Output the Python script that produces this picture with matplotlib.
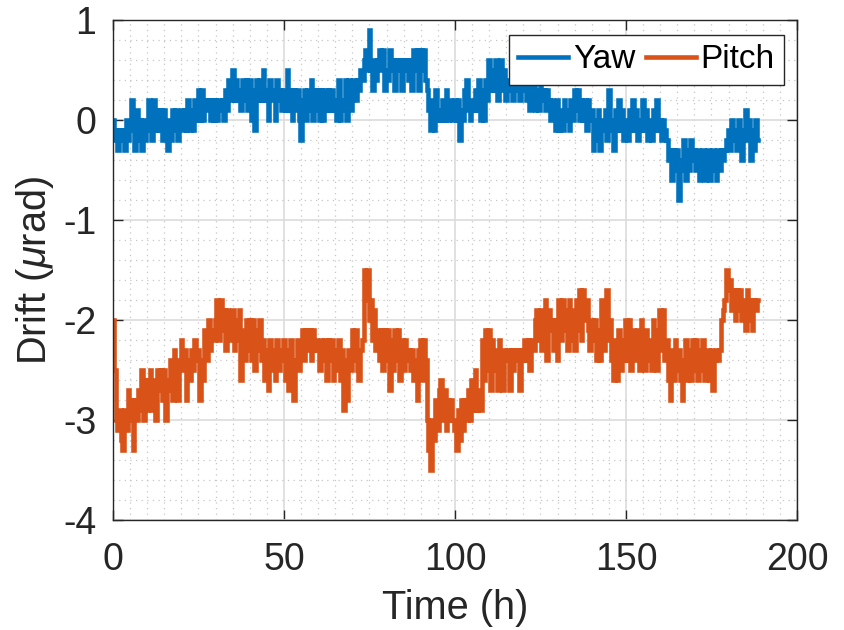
import numpy as np
import matplotlib
matplotlib.use("Agg")
import matplotlib.pyplot as plt
from matplotlib.ticker import MultipleLocator, FuncFormatter

# Drift readings sampled every half hour (μrad)
sample_step_h = 0.5

yaw = [
    0.0, -0.2, -0.1, -0.3, -0.1, -0.2, -0.1, -0.3, 0.0, -0.2, -0.1, 0.2, -0.1, -0.3, 0.1, -0.2, 0.0, -0.3, 0.0, -0.2,
    -0.1, 0.2, 0.0, -0.2, 0.2, -0.1, 0.1, -0.1, 0.1, -0.2, 0.1, -0.1, -0.3, 0.0, -0.2, 0.1, -0.1, 0.1, -0.2, 0.0,
    0.1, -0.1, 0.1, -0.1, 0.2, -0.1, 0.1, -0.1, 0.2, 0.0, 0.3, 0.0, 0.3, 0.0, 0.2, 0.1, 0.2, 0.0, 0.2, 0.0,
    0.2, 0.0, 0.2, 0.1, 0.2, 0.0, 0.3, 0.1, 0.4, 0.2, 0.5, 0.2, 0.4, 0.2, 0.3, 0.1, 0.4, 0.2, 0.4, 0.1,
    0.4, 0.0, 0.3, -0.1, 0.4, 0.2, 0.4, 0.2, 0.5, 0.2, 0.3, 0.0, 0.4, 0.2, 0.3, 0.0, 0.4, 0.2, 0.3, 0.1,
    0.3, 0.1, 0.5, 0.1, 0.3, 0.0, 0.3, 0.1, 0.3, 0.0, -0.2, 0.2, 0.3, 0.0, 0.3, 0.1, 0.4, 0.0, 0.3, 0.1,
    0.3, 0.0, 0.3, 0.0, 0.3, 0.1, 0.3, 0.1, 0.3, 0.1, 0.2, 0.0, 0.4, 0.0, 0.2, 0.1, 0.4, 0.0, 0.4, 0.1,
    0.2, 0.4, 0.2, 0.4, 0.3, 0.5, 0.4, 0.6, 0.7, 0.5, 0.9, 0.5, 0.3, 0.6, 0.4, 0.6, 0.7, 0.5, 0.7, 0.3,
    0.5, 0.4, 0.7, 0.5, 0.6, 0.3, 0.6, 0.5, 0.6, 0.3, 0.6, 0.5, 0.6, 0.4, 0.6, 0.3, 0.7, 0.5, 0.7, 0.3,
    0.7, 0.5, 0.7, 0.4, 0.3, 0.1, -0.1, 0.2, -0.1, 0.3, 0.0, 0.1, 0.0, 0.2, 0.0, 0.3, 0.0, 0.2, 0.1, 0.0,
    0.2, 0.0, 0.2, -0.2, 0.1, 0.0, 0.3, 0.4, 0.1, 0.0, 0.2, 0.1, 0.3, 0.1, 0.4, 0.0, 0.3, 0.0, 0.4, 0.2,
    0.6, 0.3, 0.5, 0.3, 0.6, 0.2, 0.5, 0.6, 0.3, 0.5, 0.2, 0.4, 0.3, 0.5, 0.2, 0.4, 0.3, 0.5, 0.2, 0.4,
    0.3, 0.4, 0.2, 0.4, 0.1, 0.3, 0.4, 0.1, 0.3, 0.1, 0.4, 0.2, 0.3, 0.1, 0.3, 0.2, 0.0, 0.2, 0.1, -0.1,
    0.2, -0.1, 0.1, -0.1, 0.2, 0.0, 0.1, -0.1, 0.2, 0.0, 0.3, 0.1, 0.3, 0.0, 0.2, 0.0, 0.2, -0.1, 0.2, 0.0,
    0.1, -0.3, 0.0, -0.2, 0.1, -0.3, 0.0, -0.1, 0.1, -0.2, 0.3, 0.0, -0.1, -0.3, 0.1, -0.1, 0.2, -0.1, 0.1, -0.2,
    0.0, -0.2, 0.1, -0.1, 0.2, -0.1, 0.1, -0.2, 0.0, -0.1, 0.2, -0.1, 0.1, -0.2, 0.0, -0.2, 0.1, -0.1, 0.2, -0.1,
    0.0, -0.2, 0.0, -0.1, -0.2, -0.4, -0.3, -0.6, -0.3, -0.5, -0.3, -0.8, -0.4, -0.5, -0.2, -0.6, -0.3, -0.5, -0.2, -0.4,
    -0.3, -0.5, -0.3, -0.6, -0.4, -0.3, -0.6, -0.4, -0.3, -0.6, -0.4, -0.3, -0.5, -0.6, -0.3, -0.5, -0.3, -0.4, -0.3, -0.2,
    -0.1, -0.3, 0.0, -0.2, -0.1, -0.3, 0.0, -0.2, -0.4, -0.1, 0.1, -0.2, 0.0, -0.4, -0.1, -0.3, 0.0, -0.2,
]

pitch = [
    -2.0, -2.5, -3.0, -3.1, -2.9, -3.2, -3.3, -2.9, -3.1, -2.7, -3.0, -2.8, -3.3, -2.8, -3.0, -2.7, -2.9, -2.5, -3.0, -2.6,
    -2.9, -2.6, -2.5, -2.9, -2.6, -3.0, -2.5, -2.7, -2.5, -2.8, -2.5, -3.0, -2.7, -2.6, -2.4, -2.8, -2.3, -2.6, -2.8, -2.4,
    -2.2, -2.5, -2.3, -2.8, -2.4, -2.6, -2.3, -2.5, -2.2, -2.4, -2.3, -2.8, -2.4, -2.6, -2.1, -2.4, -2.0, -2.3, -2.1, -2.2,
    -2.0, -1.8, -2.2, -1.8, -2.1, -1.9, -2.3, -1.9, -2.2, -2.0, -1.9, -2.3, -2.0, -2.2, -1.9, -2.6, -2.1, -2.4, -2.0, -2.3,
    -2.0, -2.4, -2.0, -2.5, -2.1, -2.3, -2.0, -2.4, -2.2, -2.6, -2.3, -2.7, -2.2, -2.5, -2.3, -2.6, -2.2, -2.5, -2.3, -2.4,
    -2.2, -2.6, -2.3, -2.7, -2.2, -2.5, -2.8, -2.4, -2.2, -2.5, -2.3, -2.1, -2.4, -2.1, -2.3, -2.1, -2.4, -2.1, -2.3, -2.2,
    -2.3, -2.5, -2.2, -2.4, -2.2, -2.6, -2.2, -2.4, -2.2, -2.6, -2.3, -2.5, -2.2, -2.6, -2.3, -2.9, -2.4, -2.8, -2.3, -2.5,
    -2.1, -2.4, -2.1, -2.5, -2.6, -2.3, -2.2, -1.5, -1.8, -1.5, -2.0, -1.8, -2.2, -1.9, -2.3, -2.1, -2.4, -2.1, -2.5, -2.1,
    -2.4, -2.1, -2.7, -2.2, -2.5, -2.1, -2.4, -2.1, -2.6, -2.2, -2.5, -2.2, -2.4, -2.3, -2.5, -2.3, -2.6, -2.4, -2.8, -2.3,
    -2.2, -2.6, -2.2, -2.4, -3.0, -3.3, -3.5, -3.0, -3.2, -2.8, -3.1, -2.7, -2.6, -3.0, -2.7, -3.1, -2.8, -3.0, -2.8, -3.0,
    -3.1, -3.3, -2.9, -3.2, -2.8, -3.1, -2.8, -3.0, -2.7, -3.0, -2.6, -2.9, -2.5, -2.9, -2.7, -2.9, -2.2, -2.6, -2.1, -2.5,
    -2.1, -2.7, -2.2, -2.5, -2.3, -2.7, -2.2, -2.4, -2.7, -2.3, -2.4, -2.3, -2.7, -2.3, -2.5, -2.3, -2.4, -2.3, -2.7, -2.3,
    -2.4, -2.2, -2.4, -2.2, -2.5, -2.2, -2.3, -2.0, -1.9, -2.2, -1.9, -2.3, -2.0, -1.8, -2.4, -1.9, -2.1, -2.0, -2.3, -2.0,
    -2.4, -1.8, -2.2, -1.8, -2.1, -1.9, -2.3, -1.8, -2.2, -1.9, -2.3, -1.8, -2.1, -1.7, -2.2, -1.7, -2.0, -1.8, -2.1, -2.3,
    -2.0, -2.2, -2.0, -2.4, -2.1, -2.4, -1.8, -2.3, -1.9, -1.7, -2.2, -2.0, -2.4, -2.6, -2.2, -2.6, -2.1, -2.5, -2.2, -2.4,
    -2.0, -2.4, -2.0, -2.5, -2.1, -2.3, -2.4, -2.1, -2.5, -2.0, -2.3, -2.5, -2.1, -2.4, -2.2, -2.5, -2.0, -2.3, -2.5, -2.1,
    -1.9, -2.3, -1.9, -2.4, -2.2, -2.6, -2.8, -2.3, -2.6, -2.2, -2.5, -2.3, -2.6, -2.8, -2.4, -2.2, -2.6, -2.3, -2.6, -2.2,
    -2.5, -2.2, -2.6, -2.3, -2.5, -2.2, -2.6, -2.4, -2.3, -2.6, -2.3, -2.7, -2.4, -2.3, -2.4, -2.3, -2.0, -1.9, -1.8, -1.5,
    -1.7, -1.6, -1.9, -1.7, -2.0, -1.7, -1.9, -1.7, -2.0, -1.8, -2.1, -1.7, -2.0, -1.8, -2.1, -1.8, -1.9, -1.8,
]

series_labels = ["Yaw", "Pitch"]
series_colors = ["#0072BD", "#D95319"]
x_ticks = [0, 50, 100, 150, 200]
y_ticks = [-4, -3, -2, -1, 0, 1]

hours = np.arange(len(yaw)) * sample_step_h

plt.rcParams["font.family"] = ["Liberation Sans", "DejaVu Sans"]
plt.rcParams["mathtext.fontset"] = "custom"
plt.rcParams["mathtext.it"] = "Liberation Sans:italic"
plt.rcParams["mathtext.rm"] = "Liberation Sans"

fig = plt.figure(figsize=(8.45, 6.30), dpi=100)
ax = fig.add_axes([113 / 845, 1 - 520 / 630, (797 - 113) / 845, 500 / 630])

for vals, lab, col in zip([yaw, pitch], series_labels, series_colors):
    ax.plot(hours, vals, color=col, lw=3.3, label=lab, drawstyle="steps-mid",
            solid_joinstyle="miter")

ax.set_xlim(0, 200)
ax.set_ylim(-4, 1)
ax.set_xticks(x_ticks)
ax.set_yticks(y_ticks)
ax.xaxis.set_minor_locator(MultipleLocator(5))
ax.yaxis.set_minor_locator(MultipleLocator(0.2))
ax.yaxis.set_major_formatter(FuncFormatter(lambda v, p: f"{int(round(v))}"))

ax.grid(True, which="major", color="#dcdcdc", lw=1.2, ls="-")
ax.grid(True, which="minor", color="#c6c6c6", lw=0.9, ls=(0, (1, 3.5)))
ax.set_axisbelow(True)

ax.tick_params(which="major", direction="in", length=7, width=1.0, color="#262626",
               labelsize=27, labelcolor="#262626", top=True, right=True)
ax.tick_params(axis="x", which="major", pad=16)
ax.tick_params(axis="y", which="major", pad=12)
ax.tick_params(which="minor", length=0, top=True, right=True)
for s in ax.spines.values():
    s.set_color("#262626")
    s.set_linewidth(1.0)

ax.set_xlabel("Time (h)", fontsize=28.6, color="#262626", labelpad=8)
ax.set_ylabel(r"Drift ($\mu$rad)", fontsize=28.6, color="#262626", labelpad=5)

leg = ax.legend(loc="upper right", ncol=2, fontsize=24, frameon=True, fancybox=False,
                bbox_to_anchor=(784 / 845, 1 - 35 / 630), bbox_transform=fig.transFigure,
                borderaxespad=0.0, handlelength=1.5, handletextpad=0.15, columnspacing=0.3,
                borderpad=0.28)
leg.get_frame().set_edgecolor("#262626")
leg.get_frame().set_linewidth(1.0)
leg.get_frame().set_alpha(1.0)

fig.savefig("out.png", dpi=100)
